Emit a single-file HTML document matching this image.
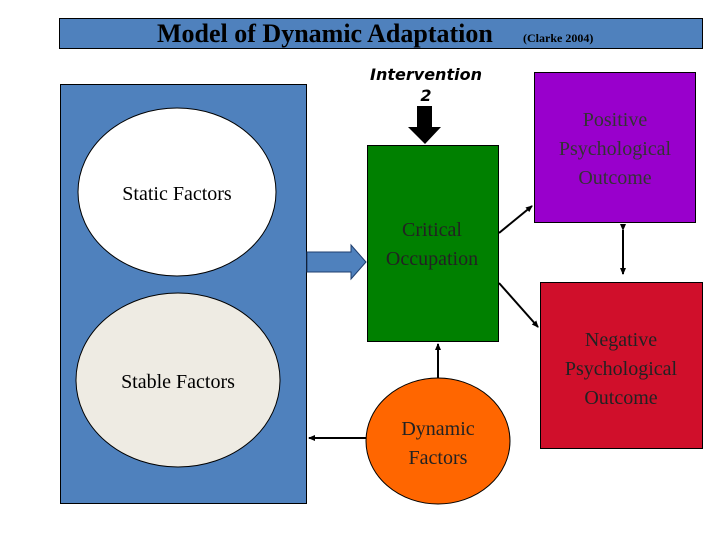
<!DOCTYPE html>
<html><head><meta charset="utf-8"><style>body{margin:0;background:#fff}svg{display:block}</style></head><body>
<svg width="720" height="540" viewBox="0 0 720 540" xmlns="http://www.w3.org/2000/svg" font-family="Liberation Serif, serif">
<defs><marker id="a" markerWidth="8" markerHeight="8" refX="6" refY="4" orient="auto" markerUnits="userSpaceOnUse"><path d="M0,1 L7,4 L0,7z" fill="#000"/></marker></defs>
<rect x="59.5" y="18.5" width="643" height="30" fill="#4f81bd" stroke="#000"/>
<text x="157" y="42" font-size="26" font-weight="bold">Model of Dynamic Adaptation</text>
<text x="523" y="42" font-size="12" font-weight="bold">(Clarke 2004)</text>
<rect x="60.5" y="84.5" width="246" height="419" fill="#4f81bd" stroke="#000"/>
<ellipse cx="177" cy="192" rx="99" ry="84" fill="#fff" stroke="#000"/>
<ellipse cx="178" cy="380" rx="102" ry="87" fill="#eeebe3" stroke="#000"/>
<text x="177" y="200" font-size="20" text-anchor="middle">Static Factors</text>
<text x="178" y="388" font-size="20" text-anchor="middle">Stable Factors</text>
<path d="M307,252 H351 V245 L366,262 L351,279 V272 H307z" fill="#4f81bd" stroke="#1f3f6f"/>
<rect x="367.5" y="145.5" width="131" height="196" fill="#008000" stroke="#000"/>
<text font-size="20" text-anchor="middle" fill="#222"><tspan x="432" y="236">Critical</tspan><tspan x="432" y="265">Occupation</tspan></text>
<rect x="534.5" y="72.5" width="161" height="150" fill="#9900cc" stroke="#000"/>
<text font-size="20" text-anchor="middle" fill="#333"><tspan x="615" y="126">Positive</tspan><tspan x="615" y="155">Psychological</tspan><tspan x="615" y="184">Outcome</tspan></text>
<rect x="540.5" y="282.5" width="162" height="166" fill="#d00f2b" stroke="#000"/>
<text font-size="20" text-anchor="middle" fill="#222"><tspan x="621" y="346">Negative</tspan><tspan x="621" y="375">Psychological</tspan><tspan x="621" y="404">Outcome</tspan></text>
<ellipse cx="438" cy="441" rx="72" ry="63" fill="#ff6600" stroke="#000"/>
<text font-size="20" text-anchor="middle" fill="#222"><tspan x="438" y="435">Dynamic</tspan><tspan x="438" y="464">Factors</tspan></text>
<text font-family="DejaVu Sans, sans-serif" font-size="16" font-style="italic" font-weight="bold" text-anchor="middle"><tspan x="426" y="80">Intervention</tspan><tspan x="426" y="101">2</tspan></text>
<path d="M417,106 H432 V127 H441 L425,144 L408,127 H417z" fill="#000"/>
<line x1="499" y1="233" x2="532" y2="206" stroke="#000" stroke-width="2" marker-end="url(#a)"/>
<line x1="499" y1="283" x2="538" y2="327" stroke="#000" stroke-width="2" marker-end="url(#a)"/>
<line x1="623" y1="230" x2="623" y2="274" stroke="#000" stroke-width="2" marker-end="url(#a)" marker-start="url(#a)"/>
<line x1="438" y1="378" x2="438" y2="344" stroke="#000" stroke-width="2" marker-end="url(#a)"/>
<line x1="366" y1="438" x2="309" y2="438" stroke="#000" stroke-width="2" marker-end="url(#a)"/>
</svg>
</body></html>
